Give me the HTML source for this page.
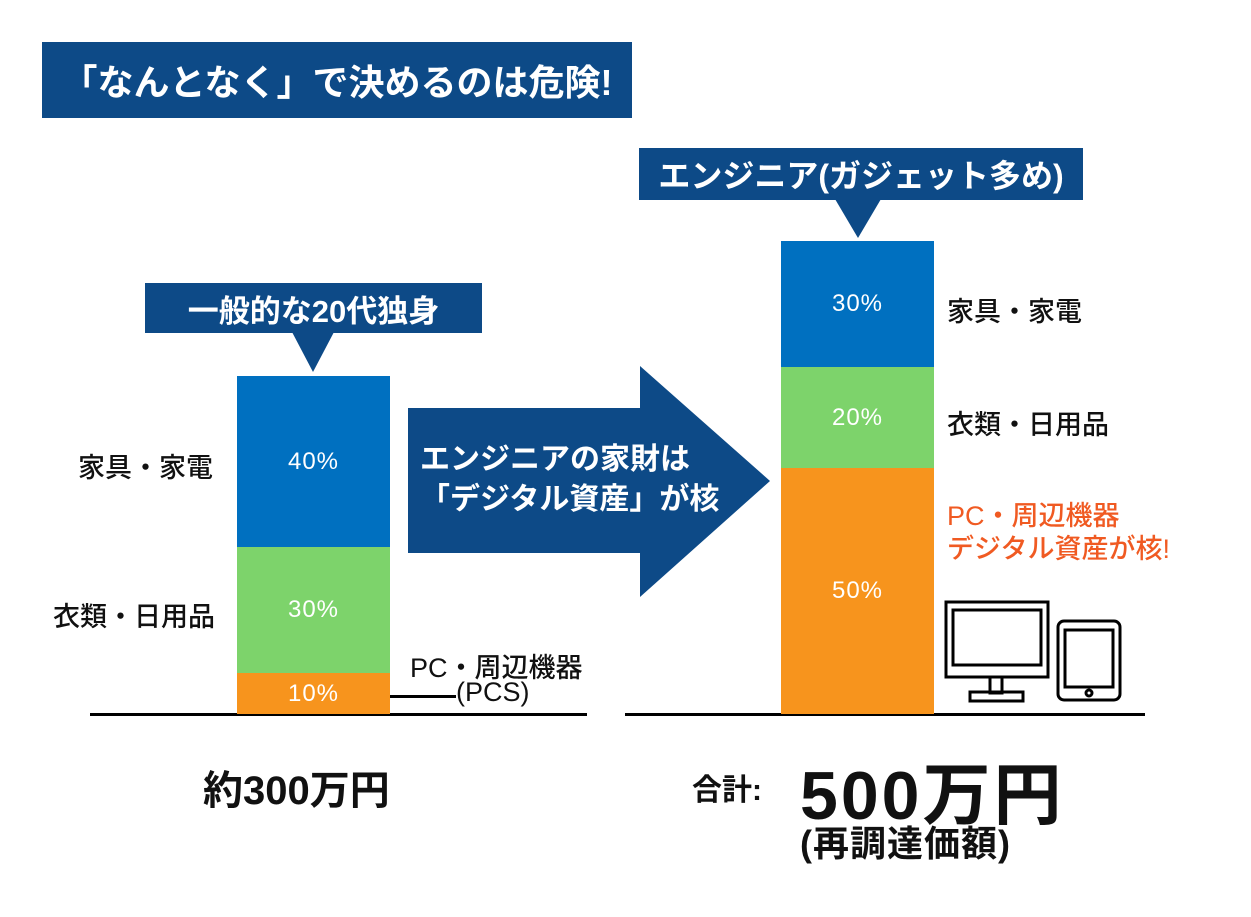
<!DOCTYPE html>
<html><head><meta charset="utf-8"><style>
body{margin:0;width:1251px;height:917px;background:#fff;position:relative;overflow:hidden;font-family:"Liberation Sans","Noto Sans CJK JP",sans-serif}
.a{position:absolute}
.nv{background:#0d4a87;color:#fff;font-weight:bold;display:flex;align-items:center;justify-content:center}
.pct{color:#fff;font-size:24px;display:flex;align-items:center;justify-content:center;letter-spacing:1px}
.lb{font-size:27px;color:#111;font-weight:500;white-space:nowrap}
</style></head><body>
<div class="a nv" style="left:42px;top:42px;width:590px;height:76px;font-size:36px">「なんとなく」で決めるのは危険!</div>

<div class="a nv" style="left:145px;top:283px;width:337px;height:50px;font-size:31px">一般的な20代独身</div>
<svg class="a" style="left:0;top:0" width="1251" height="917">
<polygon points="292,332 334,332 313,372" fill="#0d4a87"/>
<polygon points="835,199 881,199 858,238" fill="#0d4a87"/>
<polygon points="408,408 640,408 640,366 770,481 640,597 640,553 408,553" fill="#0d4a87"/>
<rect x="90" y="713" width="497" height="3" fill="#000"/>
<rect x="625" y="713" width="520" height="3" fill="#000"/>
<rect x="383" y="695" width="73" height="3" fill="#000"/>
<g fill="none" stroke="#000" stroke-width="3">
<rect x="946" y="602" width="102" height="75"/>
<rect x="953" y="610" width="88" height="55"/>
<rect x="990" y="677" width="12" height="16"/>
<rect x="970" y="692" width="53" height="9"/>
<rect x="1058" y="621" width="62" height="79" rx="6"/>
<rect x="1065" y="630" width="48" height="57"/>
<circle cx="1089" cy="693" r="3"/>
</g>
</svg>
<div class="a pct" style="left:237px;top:376px;width:153px;height:171px;background:#0070c0">40%</div>
<div class="a pct" style="left:237px;top:547px;width:153px;height:126px;background:#7dd36b">30%</div>
<div class="a pct" style="left:237px;top:673px;width:153px;height:41px;background:#f7941d">10%</div>
<div class="a lb" style="left:78px;top:446px">家具・家電</div>
<div class="a lb" style="left:53px;top:595px">衣類・日用品</div>
<div class="a lb" style="left:410px;top:646px;font-size:27px">PC・周辺機器</div>
<div class="a lb" style="left:456px;top:677px;font-size:27px">(PCS)</div>
<div class="a" style="left:420px;top:440px;color:#fff;font-weight:bold;font-size:30px;line-height:40px">エンジニアの家財は<br>「デジタル資産」が核</div>

<div class="a nv" style="left:639px;top:148px;width:444px;height:52px;font-size:32px">エンジニア(ガジェット多め)</div>
<div class="a pct" style="left:781px;top:241px;width:153px;height:126px;background:#0070c0">30%</div>
<div class="a pct" style="left:781px;top:367px;width:153px;height:101px;background:#7dd36b">20%</div>
<div class="a pct" style="left:781px;top:468px;width:153px;height:246px;background:#f7941d">50%</div>
<div class="a lb" style="left:947px;top:290px">家具・家電</div>
<div class="a lb" style="left:947px;top:403px">衣類・日用品</div>
<div class="a" style="left:947px;top:500px;color:#f05a22;font-size:27px;line-height:33px;font-weight:500;white-space:nowrap">PC・周辺機器<br>デジタル資産が核!</div>

<div class="a" style="left:203px;top:758px;font-size:40px;font-weight:bold;color:#111">約300万円</div>
<div class="a" style="left:692px;top:765px;font-size:30px;font-weight:bold;color:#111">合計:</div>
<div class="a" style="left:800px;top:740px;font-size:68px;font-weight:bold;color:#111;letter-spacing:3px">500万円</div>
<div class="a" style="left:800px;top:815px;font-size:36px;font-weight:bold;color:#111;letter-spacing:1px">(再調達価額)</div>
</body></html>
